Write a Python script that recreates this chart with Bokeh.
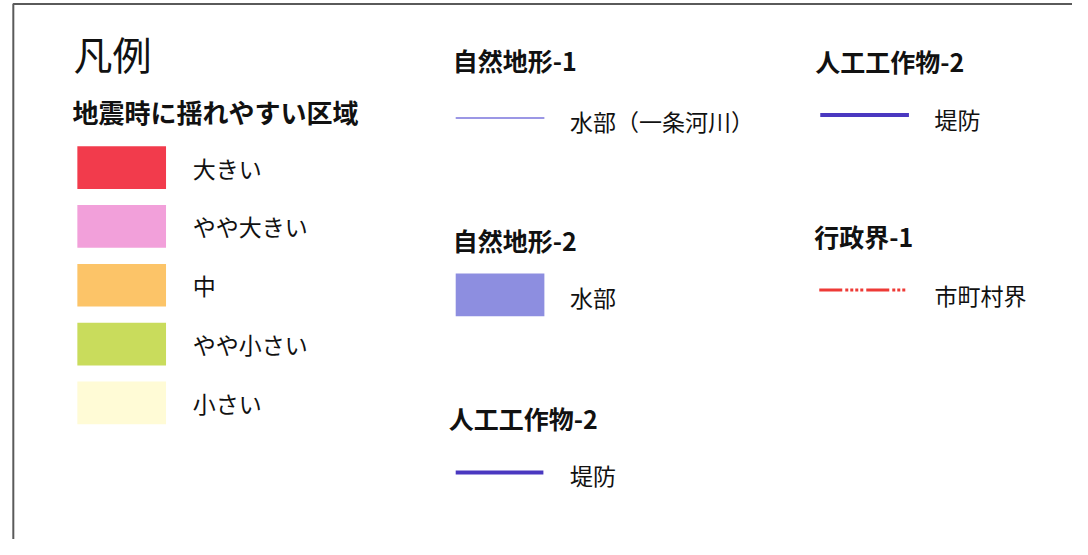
from bokeh.plotting import figure
from bokeh.models import Range1d, ColumnDataSource
from bokeh.core.properties import value
from bokeh.embed import file_html
from bokeh.resources import INLINE

# ---- data (legend content) ----
legend_title = "凡例"
quake_heading = "地震時に揺れやすい区域"
quake_levels = ["大きい", "やや大きい", "中", "やや小さい", "小さい"]

nat1_heading = "自然地形-1"
nat1_items = ["水部（一条河川）"]
nat2_heading = "自然地形-2"
nat2_items = ["水部"]
art2_heading = "人工工作物-2"
art2_items = ["堤防"]
admin_heading = "行政界-1"
admin_items = ["市町村界"]

# ---- styles ----
quake_palette = ["#f23b4c", "#f2a0da", "#fcc468", "#c9dc5c", "#fffbd6"]
river_color = "#7a74dc"
water_color = "#8d8ee0"
levee_color = "#4a38c0"
boundary_color = "#ee3a36"
FONT = "Noto Sans CJK JP"

W, H = 1072, 539
p = figure(width=W, height=H, output_backend="svg", toolbar_location=None,
           x_range=Range1d(0, 1088), y_range=Range1d(555, 0),
           min_border=0)
p.axis.visible = False
p.grid.visible = False
p.outline_line_color = None
p.background_fill_color = "white"

# frame
p.line(x=[13, 13, 1088], y=[555, 3.5, 3.5], line_color="#5a5a5a", line_width=2)

def txt(x, y, t, size, bold=False):
    p.text(x=[x], y=[y], text=[t], text_font=value(FONT),
           text_font_size=f"{size}px", text_font_style="bold" if bold else "normal",
           text_color="#111111", text_baseline="middle", text_align="left")

# left column
txt(74, 54, legend_title, 39)
txt(73, 114, quake_heading, 26, bold=True)
row0, step = 172, 60.6
ys = [row0 + i * step for i in range(len(quake_levels))]
src = ColumnDataSource(dict(x=[123] * len(quake_levels), y=ys, c=quake_palette,
                            t=quake_levels, tx=[195] * len(quake_levels)))
p.rect(x="x", y="y", width=90, height=44, fill_color="c", line_color=None, source=src)
p.text(x="tx", y="y", text="t", source=src, text_font=value(FONT), text_font_size="23px",
       text_color="#111111", text_baseline="middle", text_align="left")

# middle column
txt(459, 61, nat1_heading, 25, bold=True)
p.line(x=[462, 552], y=[121, 121], line_color=river_color, line_width=1.6)
txt(578, 124, nat1_items[0], 23)

txt(459, 247, nat2_heading, 25, bold=True)
p.rect(x=[507], y=[303], width=90, height=44, fill_color=water_color, line_color=None)
txt(578, 305, nat2_items[0], 23)

txt(455, 430, art2_heading, 25, bold=True)
p.line(x=[462, 551], y=[486, 486], line_color=levee_color, line_width=4)
txt(578, 489, art2_items[0], 23)

# right column
txt(827, 62, art2_heading, 25, bold=True)
p.line(x=[832, 922], y=[118, 118], line_color=levee_color, line_width=4)
txt(948, 122, art2_items[0], 23)

txt(826, 242, admin_heading, 25, bold=True)
p.line(x=[831, 919], y=[298, 298], line_color=boundary_color, line_width=3,
       line_dash="23 3 3 2 3 2 3 2 3 3")
txt(948, 303, admin_items[0], 23)

open("out.html", "w").write(file_html(p, INLINE))
